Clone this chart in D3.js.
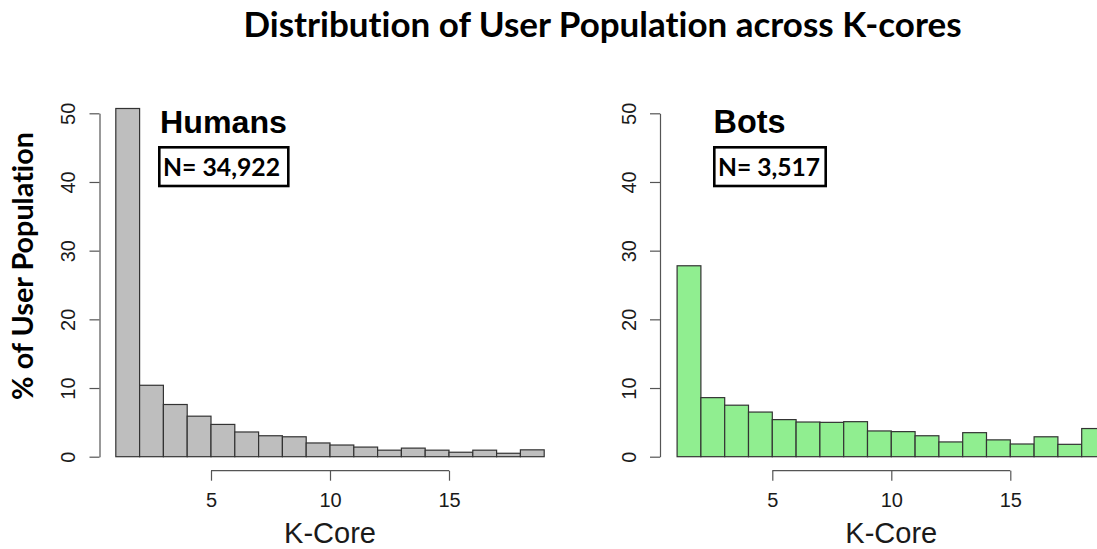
<!DOCTYPE html>
<html>
<head>
<meta charset="utf-8">
<script src="https://cdn.jsdelivr.net/npm/d3@7"></script>
<style>
  html, body { margin: 0; padding: 0; background: #fff; overflow: hidden; }
  svg { display: block; }
  text { font-variant-ligatures: none; }
</style>
</head>
<body>
<svg id="chart" width="1097" height="549"></svg>
<script>
// ---- data ----
const title = "Distribution of User Population across K-cores";
const yLabel = "% of User Population";
const xLabel = "K-Core";
const binStarts = [1,2,3,4,5,6,7,8,9,10,11,12,13,14,15,16,17,18];
const humansPct = [50.7, 10.4, 7.6, 5.9, 4.7, 3.6, 3.05, 2.9, 2.0, 1.7, 1.4, 0.95, 1.25, 0.95, 0.65, 0.95, 0.5, 1.0];
const botsPct   = [27.8, 8.6, 7.5, 6.5, 5.4, 5.05, 5.0, 5.1, 3.75, 3.65, 3.05, 2.15, 3.5, 2.45, 1.85, 2.9, 1.8, 4.1];
const yTicks = [0, 10, 20, 30, 40, 50];
const xTicks = [5, 10, 15];
const panelNames = ["Humans", "Bots"];
const panelN = ["N= 34,922", "N= 3,517"];
const panelFill = ["#bebebe", "#90ee90"];

const svg = d3.select("#chart");

function fitText(sel, target) {
  const node = sel.node();
  const fs = parseFloat(sel.attr("font-size"));
  const w = node.getComputedTextLength();
  if (w > 0) sel.attr("font-size", (fs * target / w).toFixed(2));
  return sel;
}

// title
fitText(svg.append("text")
  .attr("x", 602.5).attr("y", 37.3)
  .attr("text-anchor", "middle")
  .attr("font-family", "Lato, 'Open Sans', sans-serif")
  .attr("font-weight", 700)
  .attr("font-size", 31)
  .attr("fill", "#000")
  .text(title), 718);

// y label
fitText(svg.append("text")
  .attr("transform", "translate(33.3,266) rotate(-90)")
  .attr("text-anchor", "middle")
  .attr("font-family", "Lato, 'Open Sans', sans-serif")
  .attr("font-weight", 700)
  .attr("font-size", 26)
  .attr("fill", "#000")
  .text(yLabel), 268);

const panels = [
  { axisX: 99.5, x0: 115.8, x1: 544.2, data: humansPct },
  { axisX: 660,  x0: 677.1, x1: 1105.5, data: botsPct }
];
const yScale = d3.scaleLinear().domain([0, 50]).range([456.7, 113.3]);
const xAxisY = 470.7;

panels.forEach((p, i) => {
  const g = svg.append("g");
  const x = d3.scaleLinear().domain([1, 19]).range([p.x0, p.x1]);

  // bars
  g.selectAll("rect.bar")
    .data(binStarts.map((s, j) => ({ s: s, v: p.data[j] })))
    .join("rect")
    .attr("class", "bar")
    .attr("x", d => x(d.s))
    .attr("width", d => x(d.s + 1) - x(d.s))
    .attr("y", d => yScale(d.v))
    .attr("height", d => yScale(0) - yScale(d.v))
    .attr("fill", panelFill[i])
    .attr("stroke", "#333")
    .attr("stroke-width", 1.2);

  // y axis
  const ya = g.append("g")
    .attr("transform", `translate(${p.axisX},0)`)
    .call(d3.axisLeft(yScale).tickValues(yTicks).tickSize(10).tickSizeOuter(0).tickFormat(d3.format("d")));
  ya.select(".domain").attr("stroke", "#555").attr("stroke-width", 1.2);
  ya.selectAll(".tick line").attr("stroke", "#555").attr("stroke-width", 1.2);
  ya.selectAll(".tick text")
    .attr("x", 0).attr("dy", null).attr("y", 0)
    .attr("transform", "translate(-24.5,0) rotate(-90)")
    .attr("text-anchor", "middle")
    .attr("font-family", "'Liberation Sans', Arial, sans-serif")
    .attr("font-size", 20)
    .attr("fill", "#1a1a1a");

  // x axis
  const xa = g.append("g")
    .attr("transform", `translate(0,${xAxisY})`)
    .call(d3.axisBottom(x).tickValues(xTicks).tickSize(10).tickSizeOuter(0).tickFormat(d3.format("d")));
  xa.select(".domain").remove();
  xa.append("line")
    .attr("x1", x(xTicks[0])).attr("x2", x(xTicks[xTicks.length - 1]))
    .attr("y1", 0).attr("y2", 0)
    .attr("stroke", "#555").attr("stroke-width", 1.2);
  xa.selectAll(".tick line").attr("stroke", "#555").attr("stroke-width", 1.2);
  xa.selectAll(".tick text")
    .attr("y", 36).attr("dy", null)
    .attr("font-family", "'Liberation Sans', Arial, sans-serif")
    .attr("font-size", 20)
    .attr("fill", "#1a1a1a");

  // x label
  fitText(g.append("text")
    .attr("x", x(10)).attr("y", 543)
    .attr("text-anchor", "middle")
    .attr("font-family", "'Liberation Sans', Arial, sans-serif")
    .attr("font-size", 29)
    .attr("fill", "#1a1a1a")
    .text(xLabel), 92);

  // panel name
  const nameX = i === 0 ? 160 : 713.5;
  fitText(g.append("text")
    .attr("x", nameX).attr("y", 133)
    .attr("font-family", "'Liberation Sans', Arial, sans-serif")
    .attr("font-weight", 700)
    .attr("font-size", 31)
    .attr("fill", "#000")
    .text(panelNames[i]), i === 0 ? 127 : 72);

  // N box
  const box = i === 0 ? { x: 159.3, w: 129, tx: 163, tw: 117 } : { x: 714.3, w: 111.4, tx: 718, tw: 102 };
  g.append("rect")
    .attr("x", box.x).attr("y", 147.3)
    .attr("width", box.w).attr("height", 38.7)
    .attr("fill", "#fff")
    .attr("stroke", "#000")
    .attr("stroke-width", 2.6);
  fitText(g.append("text")
    .attr("x", box.tx).attr("y", 176)
    .attr("font-family", "Lato, 'Open Sans', sans-serif")
    .attr("font-weight", 700)
    .attr("font-size", 24)
    .attr("fill", "#000")
    .text(panelN[i]), box.tw);
});
</script>
</body>
</html>
